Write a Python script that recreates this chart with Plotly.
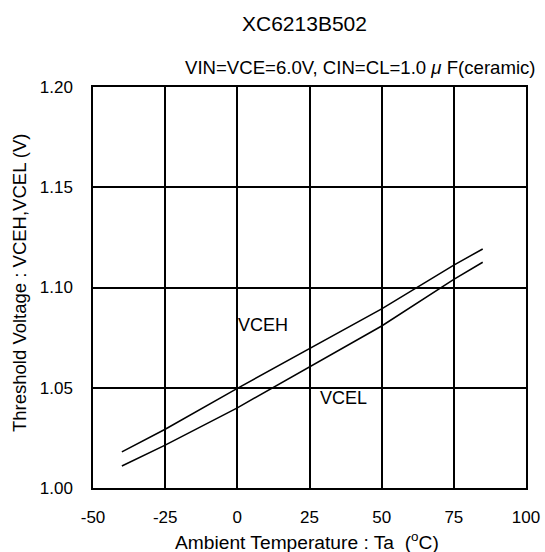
import plotly.graph_objects as go

temps = [-40, -25, 0, 25, 50, 75, 85]
vceh = [1.018, 1.0293, 1.0497, 1.0693, 1.0893, 1.1112, 1.1192]
vcel = [1.011, 1.0214, 1.0400, 1.0602, 1.0808, 1.1041, 1.1126]

x_ticks = [-50, -25, 0, 25, 50, 75, 100]
x_labels = ["-50", "-25", "0", "25", "50", "75", "100"]
y_ticks = [1.00, 1.05, 1.10, 1.15, 1.20]
y_labels = ["1.00", "1.05", "1.10", "1.15", "1.20"]

FONT = "Arial, Liberation Sans, sans-serif"

fig = go.Figure()
fig.add_trace(go.Scatter(x=temps, y=vceh, mode="lines", name="VCEH",
                         line=dict(color="black", width=1.5)))
fig.add_trace(go.Scatter(x=temps, y=vcel, mode="lines", name="VCEL",
                         line=dict(color="black", width=1.5)))

L, R, T, B = 93, 19, 87, 64
W, H = 545, 552
pw = W - L - R
ph = H - T - B

def px(xp):
    return (xp - L) / pw

def py(yp):
    return (H - B - yp) / ph

fig.update_layout(
    width=W, height=H,
    margin=dict(l=L, r=R, t=T, b=B, autoexpand=False),
    paper_bgcolor="white", plot_bgcolor="white",
    showlegend=False,
    font=dict(family=FONT, size=17, color="black"),
    xaxis=dict(range=[-50, 100], tickvals=x_ticks, ticktext=x_labels, showgrid=True,
               gridcolor="black", gridwidth=1.5, zeroline=False,
               showline=True, linecolor="black", linewidth=1.5, mirror=True,
               ticks="outside", ticklen=13, tickcolor="rgba(0,0,0,0)",
               tickfont=dict(size=17, family=FONT)),
    yaxis=dict(range=[1.00, 1.20], tickvals=y_ticks, ticktext=y_labels,
               showgrid=True, gridcolor="black", gridwidth=1.5, zeroline=False,
               showline=True, linecolor="black", linewidth=1.5, mirror=True,
               ticks="outside", ticklen=15, tickcolor="rgba(0,0,0,0)",
               tickfont=dict(size=17, family=FONT)),
    annotations=[
        dict(text="XC6213B502", xref="paper", yref="paper",
             x=px(304), y=py(24), showarrow=False,
             font=dict(size=21, family=FONT), xanchor="center", yanchor="middle"),
        dict(text="VIN=VCE=6.0V, CIN=CL=1.0 <i>μ</i> F(ceramic)", xref="paper", yref="paper",
             x=px(183), y=py(68), showarrow=False,
             font=dict(size=18.6, family=FONT), xanchor="left", yanchor="middle"),
        dict(text="Ambient Temperature : Ta  (<sup>o</sup>C)", xref="paper", yref="paper",
             x=px(306.5), y=py(541), showarrow=False,
             font=dict(size=19.2, family=FONT), xanchor="center", yanchor="middle"),
        dict(text="Threshold Voltage : VCEH,VCEL (V)", xref="paper", yref="paper",
             x=px(19), y=py(283), showarrow=False, textangle=-90,
             font=dict(size=18.5, family=FONT), xanchor="center", yanchor="middle"),
        dict(text="VCEH", x=-0.5, y=1.0813, xref="x", yref="y", showarrow=False,
             xanchor="left", yanchor="middle", font=dict(size=18, family=FONT)),
        dict(text="VCEL", x=28.0, y=1.0449, xref="x", yref="y", showarrow=False,
             xanchor="left", yanchor="middle", font=dict(size=18, family=FONT)),
    ],
)

fig.write_html("out.html", config={"displayModeBar": False},
               post_script="document.body.style.margin='0';document.body.style.overflow='hidden';")
